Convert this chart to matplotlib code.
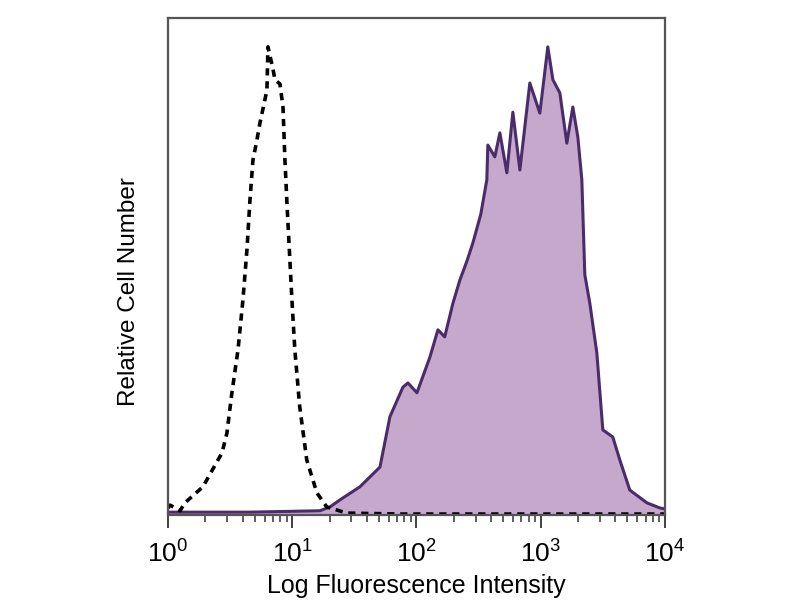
import matplotlib
matplotlib.use("Agg")
import matplotlib.pyplot as plt
from matplotlib.ticker import LogLocator, NullFormatter

plt.rcParams['font.family'] = ['Liberation Sans', 'DejaVu Sans']
plt.rcParams['mathtext.fontset'] = 'custom'
plt.rcParams['mathtext.rm'] = 'Liberation Sans'

# isotype control (dashed)
ctrl_x = [1.0, 1.04, 1.25, 1.37, 1.91, 2.72, 2.98, 3.27, 3.66, 4.01, 4.32, 4.57, 4.83,
          5.20, 5.50, 6.26, 6.38, 7.0, 7.26, 7.97, 8.43, 8.74, 9.07, 9.95, 10.5, 11.5,
          13.1, 15.8, 19.0, 27.6, 74, 468, 3000, 10000]
ctrl_y = [1.5, 2.1, 0.9, 2.6, 6.0, 13.2, 17.4, 26.0, 35.1, 45.7, 56.4, 67.0, 75.5,
          79.8, 83.4, 90.4, 99.6, 94.9, 92.6, 91.7, 86.8, 75.5, 66.4, 45.7, 35.1, 23.0,
          11.7, 4.7, 1.7, 0.4, 0.2, 0.2, 0.2, 0.2]

# stained sample (filled purple)
stain_x = [1.0, 4.57, 16.7, 20.1, 24.2, 35.1, 50.9, 61.2, 77.9, 85.5, 101, 128.5, 149,
           169, 197, 224, 255, 285, 330, 369, 376, 428, 470, 535, 598, 681, 819, 986,
           1143, 1256, 1429, 1626, 1818, 1995, 2148, 2270, 2489, 2836, 3170, 3811, 4345,
           5225, 7161, 9115, 10000]
stain_y = [0.6, 0.6, 0.9, 1.7, 3.2, 6.0, 10.2, 20.9, 27.2, 28.1, 26.0, 33.6, 39.4,
           37.9, 45.1, 50.0, 54.0, 57.9, 64.0, 71.3, 78.7, 76.2, 81.3, 72.8, 85.7, 73.4,
           91.9, 85.5, 99.6, 92.6, 89.8, 79.1, 86.8, 80.4, 71.3, 51.1, 45.1, 34.5, 18.1,
           16.6, 11.7, 5.3, 2.6, 1.5, 1.3]

fig = plt.figure(figsize=(8, 6), dpi=100)
ax = fig.add_axes([0.21, 0.1417, 0.621, 0.828])

ax.fill_between(stain_x, stain_y, 0, color='#c5a8cc', linewidth=0)
ax.plot(stain_x, stain_y, color='#4b2c6b', linewidth=2.2)
ax.plot(ctrl_x, ctrl_y, color='black', linewidth=2.6, linestyle=(0, (2.0, 1.6)))

ax.set_xscale('log')
ax.set_xlim(1, 10000)
ax.set_ylim(0, 105.7)
ax.set_yticks([])

ax.xaxis.set_major_locator(LogLocator(base=10, numticks=10))
ax.xaxis.set_minor_locator(LogLocator(base=10, subs=range(2, 10), numticks=50))
ax.xaxis.set_minor_formatter(NullFormatter())
ax.tick_params(axis='x', which='major', direction='out', length=9, width=1.3,
               labelsize=19, pad=9, color='#333333')
ax.tick_params(axis='x', which='minor', direction='out', length=5, width=1.1,
               color='#333333')

for s in ax.spines.values():
    s.set_color('#555555')
    s.set_linewidth(1.6)

ax.set_xlabel('Log Fluorescence Intensity', fontsize=18, labelpad=5)
ax.set_ylabel('Relative Cell Number', fontsize=17.5)
ax.yaxis.set_label_coords(-0.056, 0.45)

fig.savefig('out.png', dpi=100)
